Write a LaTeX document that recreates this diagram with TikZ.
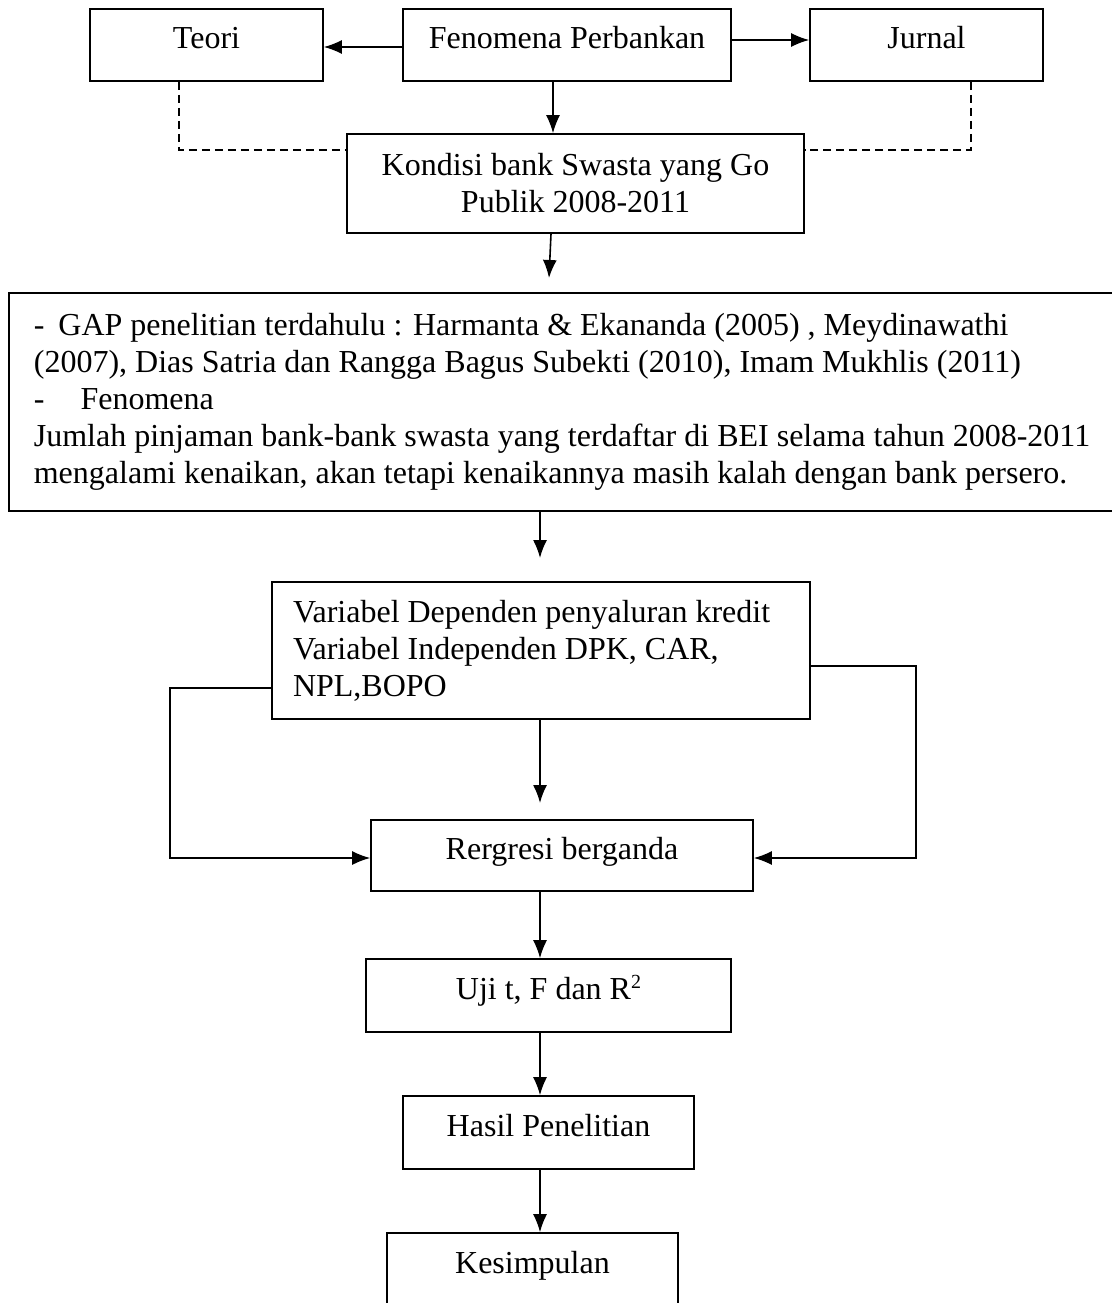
\documentclass[tikz,border=0pt]{standalone}
\usepackage{fontspec}
\setmainfont{Liberation Serif}
\usetikzlibrary{calc, arrows.meta}

\begin{document}
\begin{tikzpicture}[x=1pt, y=-1pt, font=\fontsize{32}{37}\selectfont,
	kotak/.style={draw, line width=1.6pt, inner sep=0pt, align=center},
	satu/.style={kotak, text height=21pt, text depth=13pt},
	panah/.style={-{Latex[length=18pt, width=14pt]}, line width=1.6pt}]
	
	\useasboundingbox (0,0) rectangle (1111,1303);
	
	%Top row
	\node[satu, minimum width=233, minimum height=72] (teori) at (206.5,45) {Teori};
	\node[satu, minimum width=328, minimum height=72] (fenomena) at (567,45) {Fenomena Perbankan};
	\node[satu, minimum width=233, minimum height=72] (jurnal) at (926.5,45) {Jurnal};
	\node[kotak, minimum width=457, minimum height=99] (kondisi) at (575.5,183.5) {Kondisi bank Swasta yang Go\\Publik 2008-2011};
	
	%%Arrows
	\draw[panah] ($(fenomena.west)+(0,2)$) -- ($(teori.east)+(0,2)$);
	\draw[panah] ($(fenomena.east)+(0,-5)$) -- ($(jurnal.west)+(0,-5)$);
	\draw[panah] ($(fenomena.south)+(-14,0)$) -- ($(kondisi.north)+(-22.5,0)$);
	%%Dashed links
	\draw[dash pattern=on 8pt off 5pt, line width=1.2pt] ($(teori.south)+(-27.5,0)$) |- ($(kondisi.west)+(0,-33.5)$);
	\draw[dash pattern=on 8pt off 5pt, line width=1.2pt] ($(jurnal.south)+(44.5,0)$) |- ($(kondisi.east)+(0,-33.5)$);
	
	%Gap box
	\coordinate (ujung1) at (549,278);
	\draw[panah] ($(kondisi.south)+(-24.5,0)$) -- (ujung1);
	\node[kotak, minimum width=1106, minimum height=218, align=left] (gap) at (562,402)
	{-\hspace{14pt}GAP penelitian terdahulu : Harmanta \& Ekananda (2005) , Meydinawathi\\
	(2007), Dias Satria dan Rangga Bagus Subekti (2010), Imam Mukhlis (2011)\\
	-\hspace{36pt}Fenomena\\
	Jumlah pinjaman bank-bank swasta yang terdaftar di BEI selama tahun 2008-2011\\
	mengalami kenaikan, akan tetapi kenaikannya masih kalah dengan bank persero.};
	\coordinate (ujung2) at (540,558);
	\draw[panah] ($(gap.south)+(-22,0)$) -- (ujung2);
	
	%Variables
	\node[kotak, minimum width=538, minimum height=137, text width=496, align=flush left] (variabel) at (541,650.5)
	{Variabel Dependen penyaluran kredit\\
	Variabel Independen DPK, CAR,\\
	NPL,BOPO};
	\coordinate (ujung3) at (540,803);
	\draw[panah] ($(variabel.south)+(-1,0)$) -- (ujung3);
	
	%Analysis chain
	\node[satu, minimum width=382, minimum height=71] (regresi) at (562,855.5) {Rergresi berganda};
	\node[satu, minimum width=365, minimum height=73] (uji) at (548.5,995.5) {Uji t, F dan R\raisebox{11pt}{\fontsize{20}{20}\selectfont 2}};
	\node[satu, minimum width=291, minimum height=73] (hasil) at (548.5,1132.5) {Hasil Penelitian};
	\node[satu, minimum width=291, minimum height=73] (kesimpulan) at (532.5,1269.5) {Kesimpulan};
	
	%%Side loops
	\draw[panah] ($(variabel.west)+(0,37.5)$) -- ++(-101,0) |- ($(regresi.west)+(0,2.5)$);
	\draw[panah] ($(variabel.east)+(0,15.5)$) -- ++(105,0) |- ($(regresi.east)+(0,2.5)$);
	%%Down arrows
	\draw[panah] ($(regresi.south)+(-22,0)$) -- ($(uji.north)+(-8.5,0)$);
	\draw[panah] ($(uji.south)+(-8.5,0)$) -- ($(hasil.north)+(-8.5,0)$);
	\draw[panah] ($(hasil.south)+(-8.5,0)$) -- ($(kesimpulan.north)+(7.5,0)$);
	
\end{tikzpicture}
\end{document}
